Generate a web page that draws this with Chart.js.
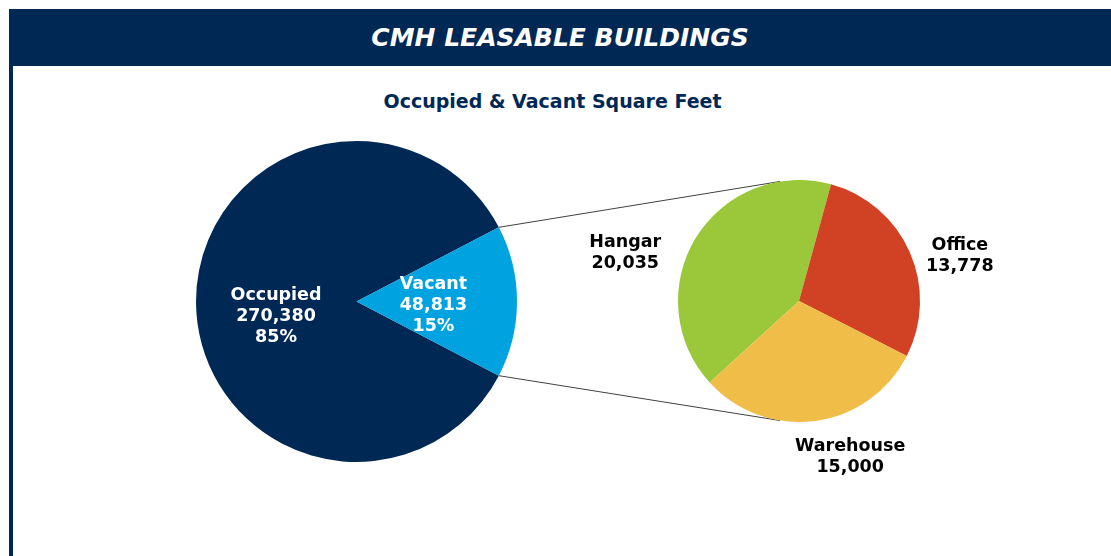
<!DOCTYPE html>
<html>
<head>
<meta charset="utf-8">
<script src="https://cdn.jsdelivr.net/npm/chart.js@4/dist/chart.umd.min.js"></script>
<style>
  html, body { margin: 0; padding: 0; background: #ffffff; }
  body { width: 1111px; height: 556px; position: relative; overflow: hidden; font-family: "DejaVu Sans", Verdana, sans-serif; }
  #header { position: absolute; left: 9px; top: 9px; width: 1102px; height: 57px; background: #002855; }
  #header h1 { margin: 0; color: #ffffff; font-size: 25px; font-weight: bold; font-style: italic; text-align: center; line-height: 58px; }
  #leftBorder { position: absolute; left: 9px; top: 66px; width: 4px; height: 490px; background: #002855; }
  #subtitle { position: absolute; left: 0; top: 87px; width: 1111px; text-align: center; color: #002855; font-weight: bold; font-size: 19px; line-height: 28px; margin-left: -3px; }
  .layer { position: absolute; left: 0; top: 0; width: 1111px; height: 556px; }
</style>
</head>
<body>
<div id="header"><h1>CMH LEASABLE BUILDINGS</h1></div>
<div id="leftBorder"></div>
<div id="subtitle">Occupied &amp; Vacant Square Feet</div>
<div class="layer"><canvas id="mainPie"></canvas></div>
<div class="layer"><canvas id="subPie"></canvas></div>
<script>
// ---- Data ----
const mainLabels = ["Occupied", "Vacant"];
const mainValues = [270380, 48813];
const mainPercents = ["85%", "15%"];
const subLabels = ["Hangar", "Office", "Warehouse"];
const subValues = [20035, 13778, 15000];

// ---- Styles ----
const NAVY = "#002855";
const mainColors = [NAVY, "#00A3E0"];
const subColors = ["#9BC83B", "#D14124", "#F0BD48"];
const labelFont = 'bold 17.5px "DejaVu Sans", Verdana, sans-serif';
const lineH = 21;
// label placement: distance factor (of radius) and angle tweak (deg) from slice mid-angle
const mainLabelPlace = [{ f: 0.51, da: -10.5 }, { f: 0.48, da: 2.6 }];
const subLabelPlace = [{ f: 1.49, da: -16 }, { f: 1.38, da: 8.3 }, { f: 1.36, da: -10.4 }];

const fmt = v => v.toLocaleString("en-US");

function drawBlock(ctx, x, y, lines, color) {
  ctx.save();
  ctx.font = labelFont;
  ctx.fillStyle = color;
  ctx.textAlign = "center";
  ctx.textBaseline = "middle";
  const top = y - (lines.length - 1) * lineH / 2;
  lines.forEach((t, i) => ctx.fillText(t, x, top + i * lineH));
  ctx.restore();
}

function labelPlugin(id, linesFor, place, color) {
  return {
    id,
    afterDatasetsDraw(chart) {
      const meta = chart.getDatasetMeta(0);
      const ctx = chart.ctx;
      meta.data.forEach((arc, i) => {
        const p = arc.getProps(["x", "y", "startAngle", "endAngle", "outerRadius"], true);
        const mid = (p.startAngle + p.endAngle) / 2 + place[i].da * Math.PI / 180;
        const d = p.outerRadius * place[i].f;
        drawBlock(ctx, p.x + Math.cos(mid) * d, p.y + Math.sin(mid) * d, linesFor(i), color);
      });
    }
  };
}

const vacantShare = mainValues[1] / (mainValues[0] + mainValues[1]);

const mainChart = new Chart(document.getElementById("mainPie"), {
  type: "pie",
  data: {
    labels: mainLabels,
    datasets: [{ data: mainValues, backgroundColor: mainColors, borderWidth: 0 }]
  },
  options: {
    responsive: true,
    maintainAspectRatio: false,
    animation: false,
    rotation: 90 + vacantShare * 180,
    layout: { padding: { left: 196, right: 594, top: 141, bottom: 94 } },
    plugins: { legend: { display: false }, tooltip: { enabled: false } }
  },
  plugins: [labelPlugin("mainLabels", i => [mainLabels[i], fmt(mainValues[i]), mainPercents[i]], mainLabelPlace, "#ffffff")]
});

const connectorPlugin = {
  id: "connectors",
  beforeDatasetsDraw(chart) {
    const vac = mainChart.getDatasetMeta(0).data[1];
    const v = vac.getProps(["x", "y", "startAngle", "endAngle", "outerRadius"], true);
    const s = chart.getDatasetMeta(0).data[0].getProps(["x", "y", "outerRadius"], true);
    const ctx = chart.ctx;
    const a1 = -99 * Math.PI / 180, a2 = 99 * Math.PI / 180;
    ctx.save();
    ctx.strokeStyle = "#404040";
    ctx.lineWidth = 1;
    ctx.beginPath();
    ctx.moveTo(v.x + Math.cos(v.startAngle) * v.outerRadius, v.y + Math.sin(v.startAngle) * v.outerRadius);
    ctx.lineTo(s.x + Math.cos(a1) * s.outerRadius, s.y + Math.sin(a1) * s.outerRadius);
    ctx.moveTo(v.x + Math.cos(v.endAngle) * v.outerRadius, v.y + Math.sin(v.endAngle) * v.outerRadius);
    ctx.lineTo(s.x + Math.cos(a2) * s.outerRadius, s.y + Math.sin(a2) * s.outerRadius);
    ctx.stroke();
    ctx.restore();
  }
};

new Chart(document.getElementById("subPie"), {
  type: "pie",
  data: {
    labels: subLabels,
    datasets: [{ data: subValues, backgroundColor: subColors, borderWidth: 0 }]
  },
  options: {
    responsive: true,
    maintainAspectRatio: false,
    animation: false,
    rotation: 227.6,
    layout: { padding: { left: 678, right: 191, top: 180, bottom: 134 } },
    plugins: { legend: { display: false }, tooltip: { enabled: false } }
  },
  plugins: [connectorPlugin, labelPlugin("subLabels", i => [subLabels[i], fmt(subValues[i])], subLabelPlace, "#000000")]
});
</script>
</body>
</html>
